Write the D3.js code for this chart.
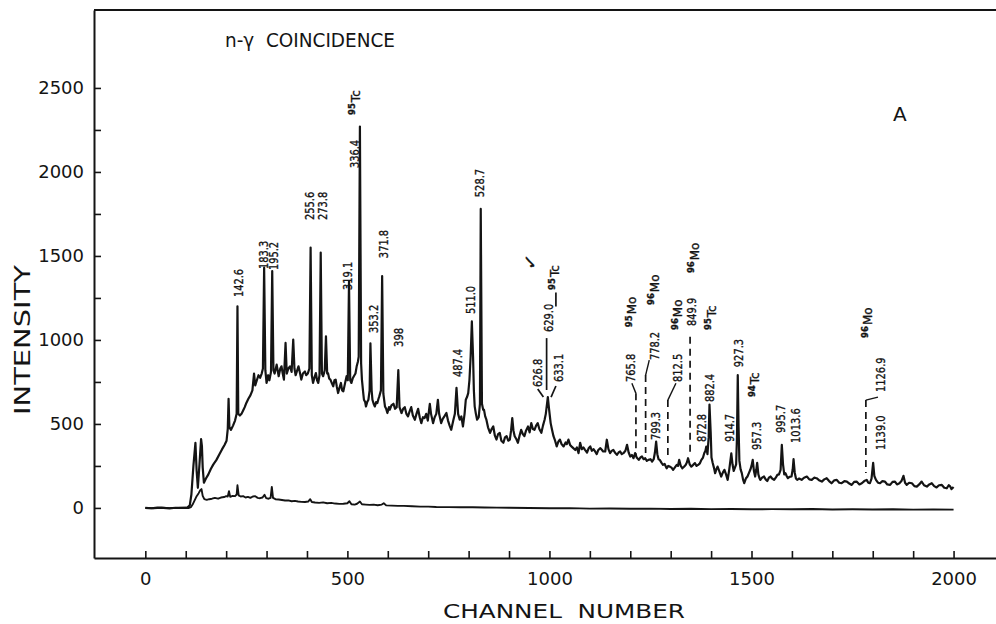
<!DOCTYPE html>
<html><head><meta charset="utf-8">
<script src="https://cdn.jsdelivr.net/npm/d3@7"></script>
<style>
html,body{margin:0;padding:0;background:#fff;}
svg{display:block;}
text{font-family:"DejaVu Sans",Verdana,sans-serif;fill:#141414;}
</style></head><body>
<svg id="chart" width="996" height="624"></svg>
<script>
// ---------- data ----------
const spectrumChannels = [0,15,30,45,60,75,90,104,110,114,119,124,127,130,134,138,140,142,145,150,156,162,168,176,184,190,196,201,204,206,208,212,217,222,226,228,230,234,238,242,246,250,255,260,265,269,272,276,280,284,288,291,294,297,300,304,307,311,314,317,320,325,330,334,337,340,343,347,350,354,358,362,366,369,372,376,379,383,386,390,395,398,402,406,409,412,415,419,422,425,428,431,434,437,440,444,447,450,452,455,458,462,465,468,471,474,477,481,484,487,490,494,498,501,504,507,510,513,516,520,523,526,528,531,534,536,539,541,544,546,549,552,555,557,560,562,565,568,571,574,577,579,583,586,589,593,596,599,603,605,609,614,618,622,626,629,634,638,642,646,650,654,658,662,667,671,675,679,683,687,691,695,699,702,704,707,712,716,720,724,727,732,736,740,745,749,753,757,762,766,770,774,778,782,786,790,793,796,799,802,805,808,811,813,815,818,821,825,828,830,833,836,838,841,844,848,853,857,861,865,869,873,877,881,886,890,894,898,902,905,908,911,914,918,922,926,930,934,938,942,947,951,955,959,963,967,971,975,980,984,988,991,994,996,999,1003,1006,1010,1014,1018,1022,1026,1030,1035,1040,1043,1047,1051,1055,1059,1064,1068,1072,1076,1080,1084,1088,1093,1097,1101,1105,1109,1113,1117,1121,1126,1130,1133,1138,1142,1146,1150,1154,1158,1162,1167,1171,1175,1179,1183,1188,1192,1196,1200,1204,1208,1212,1216,1221,1225,1229,1233,1237,1241,1245,1250,1254,1258,1261,1264,1267,1270,1273,1277,1281,1285,1290,1294,1298,1302,1306,1310,1315,1318,1321,1325,1329,1333,1337,1340,1343,1347,1351,1355,1360,1364,1368,1372,1376,1380,1383,1386,1388,1391,1394,1396,1399,1401,1404,1407,1410,1413,1416,1420,1425,1429,1433,1437,1441,1445,1448,1450,1453,1456,1459,1462,1464,1466,1468,1470,1473,1476,1479,1482,1486,1490,1494,1497,1500,1503,1506,1509,1512,1514,1517,1520,1522,1526,1531,1535,1539,1543,1547,1551,1556,1560,1564,1568,1572,1575,1578,1581,1584,1587,1590,1594,1599,1602,1604,1607,1610,1613,1618,1624,1630,1637,1643,1649,1655,1661,1667,1674,1680,1686,1692,1698,1705,1711,1717,1723,1730,1736,1742,1748,1754,1760,1767,1773,1779,1785,1789,1793,1797,1801,1804,1808,1813,1818,1824,1830,1836,1843,1849,1855,1860,1866,1871,1876,1880,1884,1890,1897,1903,1909,1915,1921,1927,1934,1940,1946,1952,1958,1964,1971,1977,1983,1988,1991,1995,2000];
const spectrumCounts = [0,-2,2,0,-3,1,0,2,15,80,250,387,220,120,260,410,370,240,150,175,200,232,258,286,322,350,375,400,470,650,480,465,490,520,560,1200,560,550,560,580,600,625,650,670,700,800,730,760,790,775,800,830,1430,820,744,790,760,810,1410,820,800,853,784,830,843,800,764,982,800,830,843,810,1002,830,790,820,843,800,764,800,812,790,800,830,1550,790,744,780,803,760,744,790,1520,800,784,820,1022,800,803,770,764,740,724,760,764,720,684,720,744,700,694,740,784,760,1350,760,744,770,784,800,843,870,900,2270,860,764,690,644,630,604,630,644,700,980,700,644,620,604,630,624,650,664,700,1380,680,604,590,565,600,585,610,620,590,600,820,600,565,590,600,560,545,575,600,550,525,560,590,540,505,540,535,560,520,580,620,560,505,540,560,644,560,505,530,545,565,520,490,465,520,560,715,560,525,545,485,560,644,660,683,760,900,1110,900,700,605,560,525,540,620,1780,620,585,585,545,525,480,447,470,485,430,407,440,447,400,388,420,427,400,407,460,535,460,427,410,388,430,465,440,427,460,485,450,505,470,465,490,505,470,447,490,525,560,620,660,590,505,470,427,400,366,395,407,380,366,390,380,407,375,365,356,345,360,326,388,350,360,346,330,355,366,340,350,336,320,345,356,345,336,336,406,350,326,340,346,330,316,330,336,320,326,340,376,330,306,315,296,326,300,286,300,306,290,296,280,286,290,276,290,330,395,320,290,286,270,256,262,236,250,246,240,227,240,256,250,286,250,236,245,256,270,296,260,246,255,267,250,256,265,286,300,326,340,365,320,420,615,450,300,267,240,207,230,246,220,187,210,227,200,167,230,286,325,260,220,240,260,420,790,480,280,230,207,170,147,175,187,210,227,250,286,220,187,230,268,200,175,167,180,187,170,160,180,187,175,167,180,197,200,227,375,260,200,207,190,177,185,187,230,290,210,175,167,175,167,180,187,170,167,180,177,165,157,170,177,160,147,165,167,150,147,160,157,145,137,155,157,140,147,160,167,150,147,175,268,190,167,150,147,160,157,140,137,155,157,140,147,160,191,150,137,150,147,130,127,140,157,135,127,140,147,130,122,135,137,120,117,135,130,112,125];
const backgroundChannels = [0,20,40,60,80,100,108,113,117,122,127,132,136,139,142,146,152,158,165,172,180,187,195,200,204,207,210,216,222,226,228,231,236,242,248,254,260,266,272,278,284,290,295,299,305,310,313,316,322,330,338,346,354,362,370,378,386,395,403,408,412,420,430,440,450,460,470,480,490,500,505,510,518,524,531,536,545,555,565,575,585,590,596,610,625,640,660,680,700,720,750,780,810,840,870,900,950,1000,1050,1100,1150,1200,1250,1300,1350,1400,1450,1500,1550,1600,1650,1700,1750,1800,1850,1900,1950,2000];
const backgroundCounts = [0,-2,1,-1,0,1,0,5,20,45,70,88,105,112,72,52,48,52,55,60,55,62,65,70,68,100,66,72,70,80,135,75,68,70,62,66,60,68,70,60,58,62,78,58,55,60,125,60,52,50,47,44,45,40,42,38,36,35,38,52,35,32,30,33,28,30,26,24,25,28,40,22,20,25,38,22,20,18,20,16,20,28,15,14,12,12,10,8,8,6,5,4,4,3,2,1,0,-2,-1,-4,-3,-5,-4,-6,-5,-7,-6,-8,-7,-8,-6,-9,-8,-9,-8,-10,-9,-10];

const xTicks = [0,100,200,300,400,500,600,700,800,900,1000,1100,1200,1300,1400,1500,1600,1700,1800,1900,2000];
const xTickLabels = [0,500,1000,1500,2000];
const yTicks = [0,250,500,750,1000,1250,1500,1750,2000,2250,2500];
const yTickLabels = [0,500,1000,1500,2000,2500];

// energy labels (keV): text, horizontal channel, intensity where text starts
const peakText = ["142.6","183.3","195.2","255.6","273.8","319.1","336.4","353.2","371.8","398","487.4","511.0","528.7","626.8","629.0","633.1","765.8","778.2","799.3","812.5","849.9","872.8","882.4","914.7","927.3","957.3","995.7","1013.6","1126.9","1139.0"];
const peakTextChannel = [229,291,316,405,437,499,516,563,588,625,771,804,827,969,997,1021,1199,1259,1261,1316,1352,1377,1395,1444,1467,1511,1571,1608,1818,1818];
const peakTextIntensity = [1255,1422,1416,1714,1714,1297,2023,1041,1487,958,779,1154,1850,720,1047,750,750,880,404,750,1083,392,630,392,838,345,446,387,690,345];

// isotope tags
const isotopeMass = ["95","95","95","96","96","96","95","94","96"];
const isotopeElement = ["Tc","Tc","Mo","Mo","Mo","Mo","Tc","Tc","Mo"];
const isotopeChannel = [519,1012,1204,1259,1318,1358,1400,1508,1788];
const isotopeIntensity = [2339,1298,1076,1208,1059,1398,1059,660,1012];

// dashed markers for lines hidden under the continuum
const markerChannel = [1214,1238,1293,1348,1783];
const markerTop = [682,791,642,1019,642];
const markerBottom = [315,327,305,315,208];
const leaderFromChannel = [1204,1247,1313,1348,1813];
const leaderFromIntensity = [742,880,742,1019,660];

// 629 keV multiplet marks
const bracketLines = [[993,1011,993,702],[971,708,985,660],[1016,726,1004,660],[1016,1283,1016,1199]];

// ---------- chart ----------
const ink = "#141414";
const svg = d3.select("#chart");
svg.append("rect").attr("width",996).attr("height",624).attr("fill","#fff");
const x = d3.scaleLinear().domain([-127,2105]).range([94,996]);
const y = d3.scaleLinear().domain([-298,2964]).range([558,10]);

// top frame line
svg.append("line")
  .attr("x1",x.range()[0]).attr("x2",x.range()[1])
  .attr("y1",y.range()[1]).attr("y2",y.range()[1])
  .attr("stroke",ink).attr("stroke-width",2);

const xAxis = svg.append("g").attr("transform",`translate(0,${y.range()[0]})`)
  .call(d3.axisBottom(x).tickValues(xTicks).tickSizeInner(-7).tickSizeOuter(0).tickPadding(14)
    .tickFormat(d => xTickLabels.includes(d) ? String(d) : ""));
const yAxis = svg.append("g").attr("transform",`translate(${x.range()[0]},0)`)
  .call(d3.axisLeft(y).tickValues(yTicks).tickSizeInner(-7).tickSizeOuter(0).tickPadding(10)
    .tickFormat(d => yTickLabels.includes(d) ? String(d) : ""));
[xAxis,yAxis].forEach(a=>{
  a.select(".domain").attr("stroke",ink).attr("stroke-width",2);
  a.selectAll(".tick line").attr("stroke",ink).attr("stroke-width",1.6);
  a.selectAll(".tick text").attr("fill",ink).attr("font-size",18).attr("font-family","DejaVu Sans, sans-serif");
});

const line = d3.line().x(d=>x(d[0])).y(d=>y(d[1]));
svg.append("path").datum(d3.zip(backgroundChannels,backgroundCounts))
  .attr("d",line).attr("fill","none").attr("stroke",ink).attr("stroke-width",1.9).attr("stroke-linejoin","round");
svg.append("path").datum(d3.zip(spectrumChannels,spectrumCounts))
  .attr("d",line).attr("fill","none").attr("stroke",ink).attr("stroke-width",2.2).attr("stroke-linejoin","round");

// dashed markers and leaders
const ann = svg.append("g").attr("stroke",ink).attr("fill","none");
markerChannel.forEach((c,i)=>{
  ann.append("line").attr("x1",x(c)).attr("x2",x(c)).attr("y1",y(markerTop[i])).attr("y2",y(markerBottom[i]))
    .attr("stroke-width",1.7).attr("stroke-dasharray","7,5");
  ann.append("line").attr("x1",x(leaderFromChannel[i])).attr("y1",y(leaderFromIntensity[i]))
    .attr("x2",x(c)).attr("y2",y(markerTop[i])).attr("stroke-width",1.4);
});
bracketLines.forEach(b=>{
  ann.append("line").attr("x1",x(b[0])).attr("y1",y(b[1])).attr("x2",x(b[2])).attr("y2",y(b[3])).attr("stroke-width",1.7);
});

// peak energy labels
const lab = svg.append("g").attr("stroke",ink).attr("stroke-width",0.35);
peakText.forEach((t,i)=>{
  const digits = t.replace(/\D/g,"").length, dots = t.length-digits;
  lab.append("text")
    .attr("transform",`translate(${x(peakTextChannel[i])},${y(peakTextIntensity[i])}) rotate(-90)`)
    .attr("dy","0.36em").attr("font-size",13)
    .attr("textLength",6.4*digits+2.6*dots).attr("lengthAdjust","spacingAndGlyphs")
    .text(t);
});
isotopeMass.forEach((m,i)=>{
  const t = lab.append("text")
    .attr("transform",`translate(${x(isotopeChannel[i])},${y(isotopeIntensity[i])}) rotate(-90)`);
  t.append("tspan").attr("font-size",8.5).attr("font-weight","bold").attr("dy",0.3).text(m);
  t.append("tspan").attr("font-size",12).attr("dy",4.2).attr("dx",1).text(isotopeElement[i]);
});
lab.append("text").attr("transform",`translate(${x(952)},${y(1464)}) rotate(-80)`)
  .attr("font-size",18).attr("text-anchor","middle").attr("dy","0.35em").text("✓");

// titles
svg.append("text").attr("x",225).attr("y",47).attr("font-size",19)
  .attr("textLength",170).attr("lengthAdjust","spacingAndGlyphs").style("white-space","pre")
  .text("n-γ  COINCIDENCE");
svg.append("text").attr("x",893).attr("y",121).attr("font-size",20).text("A");
svg.append("text").attr("transform","translate(30,340) rotate(-90)").attr("text-anchor","middle")
  .attr("font-size",22).attr("textLength",150).attr("lengthAdjust","spacingAndGlyphs").text("INTENSITY");
svg.append("text").attr("x",443).attr("y",618).attr("font-size",20)
  .attr("textLength",242).attr("lengthAdjust","spacingAndGlyphs").style("white-space","pre")
  .text("CHANNEL  NUMBER");
</script>
</body></html>
